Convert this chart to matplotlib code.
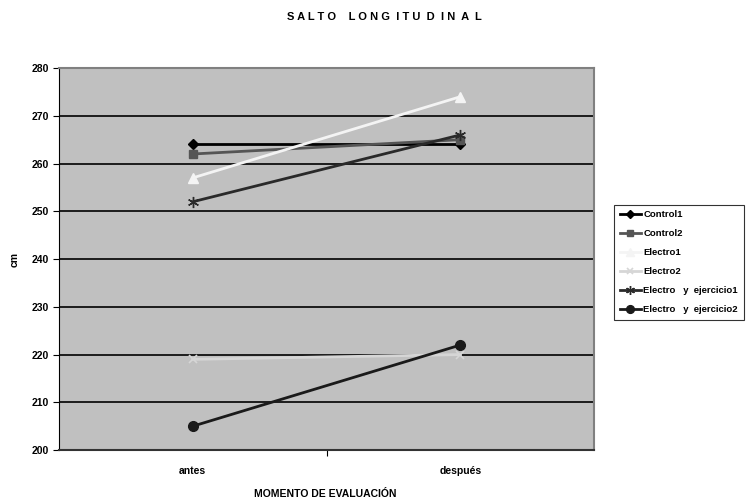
import matplotlib
matplotlib.use("Agg")
import matplotlib.pyplot as plt
import numpy as np

categories = ["antes", "después"]
series_names = [
    "Control1",
    "Control2",
    "Electro1",
    "Electro2",
    "Electro   y  ejercicio1",
    "Electro   y  ejercicio2",
]
control1 = [264, 264]
control2 = [262, 265]
electro1 = [257, 274]
electro2 = [219, 220]
electro_ej1 = [252, 266]
electro_ej2 = [205, 222]
y_ticks = [200, 210, 220, 230, 240, 250, 260, 270, 280]

series = [control1, control2, electro1, electro2, electro_ej1, electro_ej2]
styles = [
    dict(color="#000000", marker="D", markersize=5),
    dict(color="#555555", marker="s", markersize=6),
    dict(color="#f4f4f4", marker="^", markersize=7),
    dict(color="#d6d6d6", marker="x", markersize=6, markeredgewidth=1.2),
    dict(color="#2a2a2a", marker=(6, 2, 0), markersize=8, markeredgewidth=1.0),
    dict(color="#1a1a1a", marker="o", markersize=7),
]

plt.rcParams["font.family"] = ["Liberation Sans", "DejaVu Sans"]

fig = plt.figure(figsize=(7.56, 5.04), dpi=100)
ax = fig.add_axes([0.078, 0.107, 0.708, 0.758])
ax.set_facecolor("#c0c0c0")

x = np.arange(len(categories))
for name, vals, st in zip(series_names, series, styles):
    ax.plot(x, vals, linewidth=2, label=name, **st)

ax.set_xlim(-0.5, 1.5)
ax.set_ylim(200, 280)
ax.set_yticks(y_ticks)
ax.set_yticklabels([str(t) for t in y_ticks], fontsize=7.5, fontweight="bold")
ax.yaxis.grid(True, color="black", linewidth=1.2)
ax.set_axisbelow(True)

ax.set_xticks([0.5])
ax.set_xticklabels([""])
ax.tick_params(axis="x", length=4, direction="out")
ax.tick_params(axis="y", length=4, direction="out", pad=3)
for i, c in enumerate(categories):
    ax.text(i, -0.055, c, transform=ax.get_xaxis_transform(), ha="center", va="center",
            fontsize=7.5, fontweight="bold")

for side in ["top", "right"]:
    ax.spines[side].set_color("#808080")
    ax.spines[side].set_linewidth(1.5)
ax.spines["left"].set_color("black")
ax.spines["bottom"].set_color("#333333")
ax.spines["bottom"].set_linewidth(1.5)

ax.set_ylabel("cm", fontsize=7.5, fontweight="bold", labelpad=9)
fig.text(0.43, 0.02, "MOMENTO DE EVALUACIÓN", ha="center", va="center",
         fontsize=7.5, fontweight="bold")
fig.text(0.508, 0.966, "S A L T O    L O N G  I T U  D  I N  A  L", ha="center", va="center",
         fontsize=8, fontweight="bold")

leg = fig.legend(loc="upper left", bbox_to_anchor=(0.806, 0.603),
                 frameon=True, fancybox=False, edgecolor="black", handlelength=2.2,
                 borderpad=0.6, labelspacing=1.05, handletextpad=0.3, markerscale=0.8,
                 prop=dict(size=6.8, weight="bold"))
leg.get_frame().set_linewidth(0.8)

fig.savefig("out.png", dpi=100)
